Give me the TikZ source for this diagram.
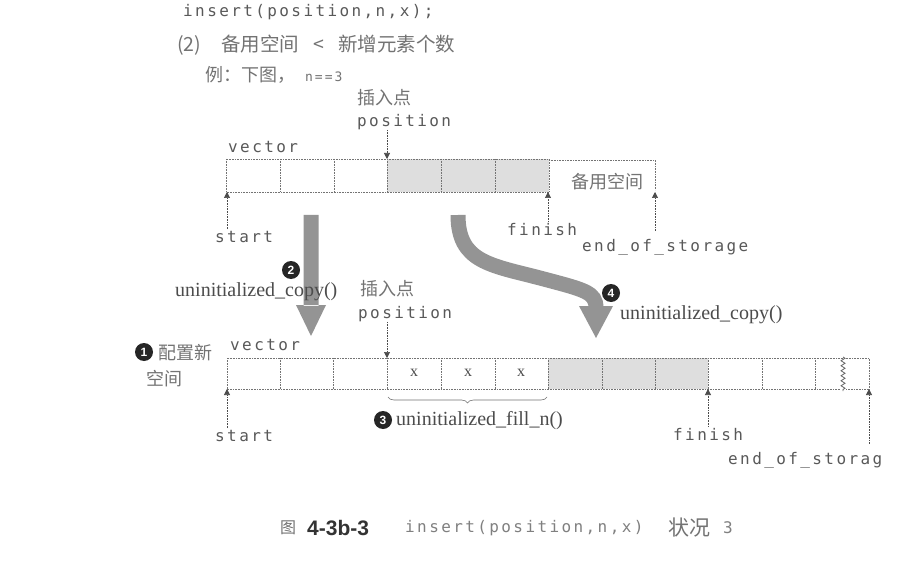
\documentclass[tikz,border=0pt]{standalone}
\usepackage{fontspec}
\setmainfont{Liberation Serif}
\setsansfont{Liberation Sans}
\setmonofont[LetterSpace=15]{DejaVu Sans Mono}
\newfontfamily\cjk{Noto Sans CJK SC}
\usetikzlibrary{arrows.meta,decorations.pathreplacing,decorations.pathmorphing,calc}
\begin{document}
\begin{tikzpicture}[x=1pt,y=-1pt,
  cellline/.style={draw=black!55, densely dotted, line width=0.6pt},
  shaded/.style={fill=black!13},
  mono/.style={font=\fontsize{16}{18}\selectfont\ttfamily, text=black!65, inner sep=0pt},
  cjkt/.style={font=\fontsize{18}{20}\selectfont\cjk, text=black!55, inner sep=0pt},
  serift/.style={font=\fontsize{20}{22}\selectfont, text=black!70, inner sep=0pt},
  ptr/.style={densely dotted, draw=black!70, line width=0.6pt, -{Triangle[length=6pt,width=6pt]}},
  bignum/.style={circle, fill=black!85, text=white, font=\bfseries\sffamily\fontsize{12}{12}\selectfont, inner sep=0pt, minimum size=18pt},
  bigarrow/.style={fill=black!42, draw=none}
]
\useasboundingbox (0,0) rectangle (909,561);
\fill[white] (0,0) rectangle (909,561);

% header texts
\node[mono, anchor=west] (hdr) at (183,12) {insert(position,n,x);};
\node[cjkt, anchor=west, font=\fontsize{19.5}{21}\selectfont\cjk] (cond) at (177,45) {(2)\hspace{20pt}备用空间\hspace{14pt}<\hspace{14pt}新增元素个数};
\node[cjkt, anchor=west] (eg) at (205,75) {例：下图，\hspace{10pt}{\ttfamily\fontsize{13}{14}\selectfont n==3}};

% ===== top array =====
\fill[shaded] (387,159) rectangle (549,192);
\draw[cellline] (226,159) rectangle (549,192);
\foreach \xx in {280,334,387,441,495} {\draw[cellline] (\xx,159) -- (\xx,192);}
\draw[cellline] (549,160) -- (655,160) -- (655,190);
\coordinate (tpos) at (387,159);
\coordinate (tstart) at (227,192);
\coordinate (tfin) at (548,192);
\coordinate (teos) at (655,192);

\node[cjkt, anchor=west] (ins1) at (357,98) {插入点};
\node[mono, anchor=west] (pos1) at (357,122) {position};
\node[mono, anchor=west] (vec1) at (228,147) {vector};
\node[cjkt] (spare) at (607,182) {备用空间};
\node[mono, anchor=west] (st1) at (215,237) {start};
\node[mono, anchor=west] (fi1) at (507,230) {finish};
\node[mono, anchor=west] (eo1) at (582,247) {end\_of\_storage};

\draw[ptr] (pos1.south -| tpos) -- (tpos);
\draw[ptr] ($(st1.north -| tstart)+(0,-2)$) -- (tstart);
\draw[ptr] ($(fi1.north -| tfin)+(0,-2)$) -- (tfin);
\draw[ptr] ($(eo1.north -| teos)+(0,-8)$) -- (teos);

% ===== big arrows =====
\fill[bigarrow] (303.5,215) rectangle (318.5,306)
  (296,305) -- (326,305) -- (311,336) -- cycle;
\draw[black!42, line width=15pt] (458,215) .. controls (458,262) and (490,265) .. (540,278)
  .. controls (585,290) and (596,292) .. (596,308);
\fill[bigarrow] (579,306) -- (613,306) -- (596,338) -- cycle;

\node[bignum] (n2) at (291,270) {2};
\node[serift, anchor=west] (uc1) at (175,292) {uninitialized\_copy()};
\node[bignum] (n4) at (611,293) {4};
\node[serift, anchor=west] (uc2) at (620,315) {uninitialized\_copy()};

% ===== bottom array =====
\fill[shaded] (548,358) rectangle (708,389);
\draw[cellline] (227,389) -- (227,358) -- (869,358) -- (869,389) -- (846,389);
\draw[cellline] (840,389) -- (227,389);
\foreach \xx in {280,333,387,441,495,548,602,655,708,762,815} {\draw[cellline] (\xx,358) -- (\xx,389);}
\draw[black!60, line width=0.8pt, decorate, decoration={zigzag, segment length=5pt, amplitude=2pt}] (843,357) -- (843,391);
\foreach \xx/\nm in {414/xa,468/xb,521/xc} {\node[serift, font=\fontsize{16}{16}\selectfont] (\nm) at (\xx,373) {x};}

\coordinate (bpos) at (387,358);
\coordinate (bstart) at (227,389);
\coordinate (bfin) at (708,389);
\coordinate (beos) at (869,389);

\node[cjkt, anchor=west] (ins2) at (360,289) {插入点};
\node[mono, anchor=west] (pos2) at (358,314) {position};
\node[mono, anchor=west] (vec2) at (230,345) {vector};
\node[bignum] (n1) at (144,352) {1};
\node[cjkt, anchor=west] (cfg1) at (158,353) {配置新};
\node[cjkt, anchor=west] (cfg2) at (146,379) {空间};

\coordinate (brl) at (388,397);
\coordinate (brr) at (547,397);
\draw[black!55, line width=0.6pt, decorate, decoration={brace, mirror, amplitude=6pt}] (brl) -- (brr);
\node[bignum] (n3) at (383,420) {3};
\node[serift, anchor=west] (fill) at (396,421) {uninitialized\_fill\_n()};

\node[mono, anchor=west] (st2) at (215,436) {start};
\node[mono, anchor=west] (fi2) at (673,435) {finish};
\begin{scope}
\clip (0,0) rectangle (882,561);
\node[mono, anchor=west] (eo2) at (728,460) {end\_of\_storage};
\end{scope}

\draw[ptr] (pos2.south -| bpos) -- (bpos);
\draw[ptr] ($(st2.north -| bstart)+(0,-2)$) -- (bstart);
\draw[ptr] ($(fi2.north -| bfin)+(0,-2)$) -- (bfin);
\draw[ptr] ($(eo2.north -| beos)+(0,-8)$) -- (beos);

% ===== caption =====
\node[cjkt, anchor=west, font=\fontsize{16}{18}\selectfont\cjk] (fig) at (280,528) {图};
\node[anchor=west, inner sep=0pt, text=black!80, font=\bfseries\sffamily\fontsize{21}{22}\selectfont] (fnum) at (307,528) {4-3b-3};
\node[mono, anchor=west, text=black!50] (fcode) at (405,528) {insert(position,n,x)};
\node[cjkt, anchor=west, font=\fontsize{21}{22}\selectfont\cjk] (fst) at (668,528) {状况};
\node[mono, anchor=west, text=black!50] (fthree) at (723,528) {3};
\end{tikzpicture}
\end{document}
